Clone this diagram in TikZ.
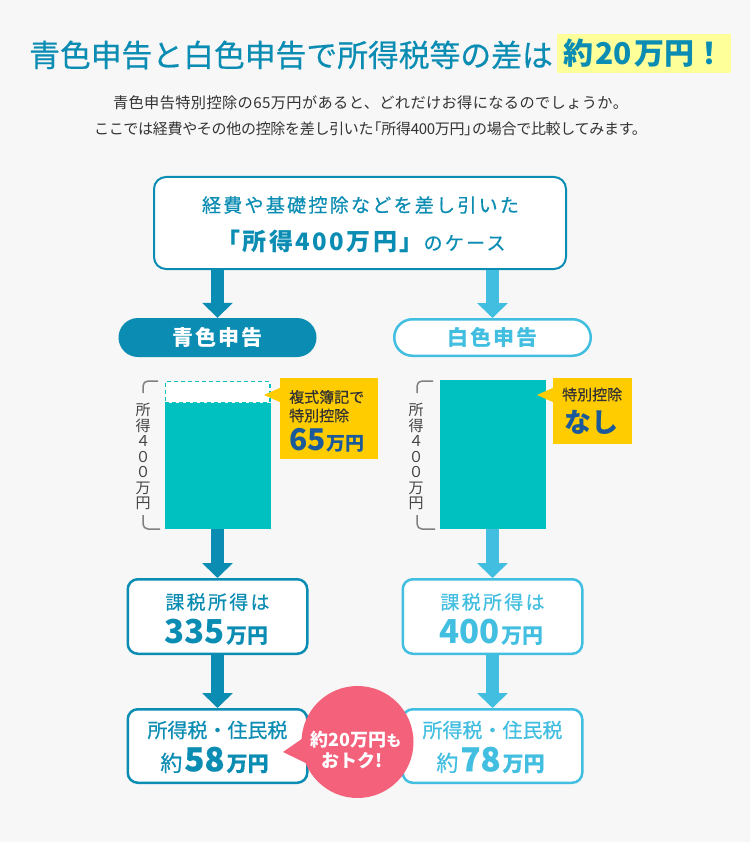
\documentclass[tikz,border=0pt]{standalone}
\usepackage{fontspec}
\setmainfont{Noto Sans CJK JP}
\newfontfamily\medf{Noto Sans CJK JP}[FakeBold=0.5]
\newfontfamily\medsp{Noto Sans CJK JP}[FakeBold=0.5,LetterSpace=12]
\newfontfamily\boldsp{Noto Sans CJK JP}[LetterSpace=10]
\newfontfamily\subA{Noto Sans CJK JP}[LetterSpace=2.5]
\newfontfamily\subB{Noto Sans CJK JP}[LetterSpace=-2]
\usetikzlibrary{arrows.meta}
\definecolor{bgc}{HTML}{F7F7F7}
\definecolor{blueA}{HTML}{0B8DB3}
\definecolor{blueB}{HTML}{41BEE0}
\definecolor{barc}{HTML}{00C0C0}
\definecolor{yel}{HTML}{FFCC00}
\definecolor{hili}{HTML}{FFFF99}
\definecolor{redc}{HTML}{F4617A}
\definecolor{navy}{HTML}{1A5A9A}
\definecolor{txt}{HTML}{333333}
\definecolor{vtxt}{HTML}{444444}
\definecolor{brk}{HTML}{808080}
\newcommand\fsz[1]{\fontsize{#1}{#1}\selectfont}
\tikzset{
  lbl/.style={inner sep=0pt},
  arrowA/.style={draw=blueA, line width=13pt, -{Triangle[width=30pt,length=15pt]}},
  arrowB/.style={draw=blueB, line width=13pt, -{Triangle[width=30pt,length=15pt]}},
  boxA/.style={draw=blueA, line width=2.5pt, fill=white, rounded corners=10pt, minimum width=179.5pt, inner sep=0pt},
  boxB/.style={boxA, draw=blueB},
  barbox/.style={fill=barc, minimum width=106pt, inner sep=0pt},
  callout/.style={fill=yel, inner sep=0pt},
  brack/.style={draw=brk, line width=1.5pt, rounded corners=5pt},
  vlabel/.style={inner sep=0pt, text=vtxt, align=center, font={\fontsize{15}{15.5}\selectfont}},
}
\begin{document}
\begin{tikzpicture}[x=1pt,y=-1pt]
\fill[bgc] (0,0) rectangle (750,842);
\useasboundingbox (0,0) rectangle (750,842);

% title
\node[lbl, anchor=west, text=blueA] (title) at (29,55) {\medf\fsz{30.8}青色申告と白色申告で所得税等の差は};
\node[fill=hili, minimum width=174pt, minimum height=39pt, inner sep=0pt, text=blueA] (hl) at (644,53.5) {\bfseries\fsz{30}約\kern2pt 20\kern2pt 万円！};

% subtitle
\node[lbl, text=txt] (sub1) at (370.5,103) {\subA\fsz{15.2}青色申告特別控除の65万円があると、どれだけお得になるのでしょうか。};
\node[lbl, text=txt] (sub2) at (370.5,129) {\subB\fsz{15}ここでは経費やその他の控除を差し引いた\kern-7pt「所得400万円」\kern-7pt の場合で比較してみます。};

% top box
\node[draw=blueA, line width=2pt, fill=white, rounded corners=12pt, minimum width=412pt, minimum height=92pt, inner sep=0pt] (top) at (360,223) {};
\node[lbl, text=blueA] (top1) at (360.5,205) {\medsp\fsz{19}経費や基礎控除などを差し引いた};
\node[lbl, text=blueA] (top2) at (361,241) {\boldsp\bfseries\fsz{24}「所得400万円」\medsp\mdseries\fsz{19}のケース};

% pills
\node[fill=blueA, rounded corners=19.5pt, minimum width=198pt, minimum height=39pt, inner sep=0pt, text=white] (blue) at (217.5,337.5) {\boldsp\bfseries\fsz{21}青色申告};
\node[draw=blueB, line width=2.5pt, fill=white, rounded corners=18.25pt, minimum width=196.5pt, minimum height=36.5pt, inner sep=0pt, text=blueB] (white) at (492.5,337.5) {\boldsp\bfseries\fsz{21}白色申告};

\draw[arrowA] (top.south -| blue.north) -- (blue.north);
\draw[arrowB] (top.south -| white.north) -- (white.north);

% left bar
\node[barbox, minimum height=126pt] (lbar) at (217.5,466) {};
\node[fill=white, draw=barc, dash pattern=on 4pt off 3pt, line width=1.3pt, minimum width=104.7pt, minimum height=20.7pt, inner sep=0pt] (ldash) at (217.5,392) {};
\draw[brack] (158,381) -- (143,381) -- (143,393);
\draw[brack] (143,515) -- (143,529) -- (160,529);
\node[vlabel] (lvt) at (143,456.5) {所\\得\\４\\０\\０\\万\\円};

% left callout
\node[callout, minimum width=98pt, minimum height=81pt] (lcall) at (329,418.5) {};
\fill[yel] (lcall.west |- 0,388) -- (264,395) -- (lcall.west |- 0,402) -- cycle;
\node[lbl, anchor=west, text=txt] (lc1) at (289,397) {\medf\fsz{15}複式簿記で};
\node[lbl, anchor=west, text=txt] (lc2) at (289,415.5) {\medf\fsz{15}特別控除};
\node[lbl, anchor=west, text=navy] (lc3) at (289,440) {\bfseries\fsz{30}65\kern1pt\fsz{19}万円};

% right bar
\node[barbox, minimum height=149pt] (rbar) at (492.5,454.5) {};
\draw[brack] (433,381) -- (417,381) -- (417,393);
\draw[brack] (417,515) -- (417,529) -- (435,529);
\node[vlabel] (rvt) at (416,456.5) {所\\得\\４\\０\\０\\万\\円};

% right callout
\node[callout, minimum width=79pt, minimum height=66pt] (rcall) at (592.5,411) {};
\fill[yel] (rcall.west |- 0,388) -- (537,395) -- (rcall.west |- 0,402) -- cycle;
\node[lbl, anchor=west, text=txt] (rc1) at (562,394.5) {\medf\fsz{15}特別控除};
\node[lbl, anchor=west, text=navy] (rc2) at (564,422) {\bfseries\fsz{27}なし};

% result boxes
\node[boxA, minimum height=74.5pt] (lbox1) at (217.5,616.5) {};
\node[lbl, text=blueA] (lb1a) at (217.5,602) {\medsp\fsz{19}課税所得は};
\node[lbl, text=blueA] (lb1b) at (216.5,632) {\bfseries\fsz{33}335\kern2pt\fsz{21}万円};
\node[boxB, minimum height=74.5pt] (rbox1) at (492.5,616.5) {};
\node[lbl, text=blueB] (rb1a) at (492.5,602) {\medsp\fsz{19}課税所得は};
\node[lbl, text=blueB] (rb1b) at (491.5,632) {\bfseries\fsz{33}400\kern2pt\fsz{21}万円};

\node[boxA, minimum height=73.5pt] (lbox2) at (217.5,746) {};
\node[lbl, text=blueA] (lb2a) at (217.5,730) {\medf\fsz{20}所得税・住民税};
\node[lbl, text=blueA] (lb2b) at (214.5,760) {\medf\fsz{22}約\kern2pt\bfseries\fsz{33}58\kern2pt\fsz{21}万円};
\node[boxB, minimum height=73.5pt] (rbox2) at (492.5,746) {};
\node[lbl, text=blueB] (rb2a) at (492.5,730) {\medf\fsz{20}所得税・住民税};
\node[lbl, text=blueB] (rb2b) at (490.5,760) {\medf\fsz{22}約\kern2pt\bfseries\fsz{33}78\kern2pt\fsz{21}万円};

\draw[arrowA] (lbar.south) -- (lbox1.north);
\draw[arrowB] (rbar.south) -- (rbox1.north);
\draw[arrowA] (lbox1.south) -- (lbox2.north);
\draw[arrowB] (rbox1.south) -- (rbox2.north);

% red bubble
\fill[redc] (283,752) -- (309,734) -- (316,768) -- cycle;
\node[circle, fill=redc, minimum size=112pt, inner sep=0pt] (save) at (357.5,742) {};
\node[lbl, text=white] (s1) at (356,740) {\bfseries\fsz{18}約20万円\fsz{15}も};
\node[lbl, text=white] (s2) at (352,761) {\bfseries\fsz{18}おトク!};
\end{tikzpicture}
\end{document}
